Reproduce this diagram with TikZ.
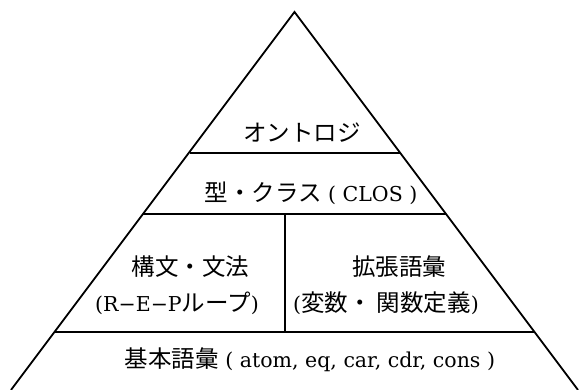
\documentclass[tikz,border=0pt]{standalone}
\usepackage{fontspec}
\setmainfont{DejaVu Serif}
\newfontfamily\jpfont{Noto Sans CJK JP}
\newcommand{\J}[1]{{\jpfont\fontsize{23.5}{26}\selectfont #1}}
\begin{document}
\begin{tikzpicture}[x=1pt,y=-1pt,
  edge/.style={line width=1.8pt},
  lbl/.style={font=\fontsize{20.5}{24}\selectfont, inner sep=0pt, anchor=center}]
\useasboundingbox (0,0) rectangle (582,390);
\clip (0,0) rectangle (582,390);
% triangle
\coordinate (apex) at (294.5,12);
\coordinate (bl) at (11,390);
\coordinate (br) at (578,390);
\coordinate (l1) at (189.5,153);
\coordinate (r1) at (399.5,153);
\coordinate (l2) at (143,214);
\coordinate (r2) at (446,214);
\coordinate (l3) at (54.5,332);
\coordinate (r3) at (534.5,332);
\coordinate (m2) at (285,214);
\coordinate (m3) at (285,332);
\draw[edge, line join=miter] (bl) -- (apex) -- (br);
\draw[edge] (l1) -- (r1);
\draw[edge] (l2) -- (r2);
\draw[edge] (l3) -- (r3);
\draw[edge] (m2) -- (m3);
% labels
\node[lbl] (onto) at (302,133) {\J{オントロジ}};
\node[lbl] (clos) at (311,193) {\J{型・クラス} ( CLOS )};
\node[lbl] (syn) at (190.5,267) {\J{構文・文法}};
\node[lbl] (rep) at (177,303) {(R−E−P\J{ループ})};
\node[lbl] (ext) at (399,267) {\J{拡張語彙}};
\node[lbl] (fun) at (386,303) {(\J{変数・ 関数定義})};
\node[lbl] (base) at (310,360) {\J{基本語彙} ( atom, eq, car, cdr, cons )};
\end{tikzpicture}
\end{document}
